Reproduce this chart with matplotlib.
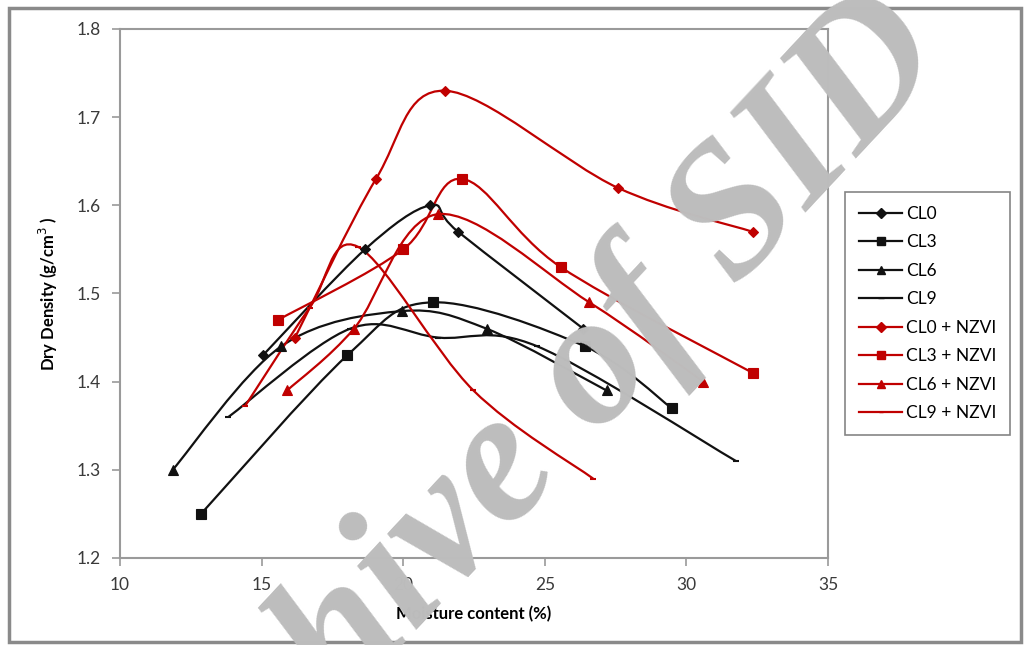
import matplotlib
matplotlib.use("Agg")
import matplotlib.pyplot as plt
from matplotlib.path import Path
from matplotlib.patches import PathPatch, Rectangle
from matplotlib.lines import Line2D
import numpy as np

# ---- data ----
cl0_x = [15.05, 18.65, 20.95, 21.94, 26.36]
cl0_y = [1.43, 1.55, 1.60, 1.57, 1.46]
cl3_x = [12.86, 18.03, 21.04, 26.42, 29.48]
cl3_y = [1.25, 1.43, 1.49, 1.44, 1.37]
cl6_x = [11.86, 15.69, 19.95, 22.95, 27.18]
cl6_y = [1.30, 1.44, 1.48, 1.46, 1.39]
cl9_x = [13.83, 18.12, 21.24, 24.74, 31.75]
cl9_y = [1.36, 1.46, 1.45, 1.44, 1.31]
cl0n_x = [16.18, 19.04, 21.48, 27.57, 32.34]
cl0n_y = [1.45, 1.63, 1.73, 1.62, 1.57]
cl3n_x = [15.58, 20.00, 22.07, 25.56, 32.34]
cl3n_y = [1.47, 1.55, 1.63, 1.53, 1.41]
cl6n_x = [15.90, 18.26, 21.23, 26.57, 30.60]
cl6n_y = [1.39, 1.46, 1.59, 1.49, 1.40]
cl9n_x = [14.41, 16.70, 18.40, 22.48, 26.71]
cl9n_y = [1.372, 1.484, 1.553, 1.39, 1.29]

labels = ["CL0", "CL3", "CL6", "CL9", "CL0 + NZVI", "CL3 + NZVI", "CL6 + NZVI", "CL9 + NZVI"]
x_ticks = [10, 15, 20, 25, 30, 35]
y_ticks = [1.2, 1.3, 1.4, 1.5, 1.6, 1.7, 1.8]

BLACK = "#111111"
RED = "#c00000"
series = [
    (cl0_x, cl0_y, BLACK, "D", 5.5),
    (cl3_x, cl3_y, BLACK, "s", 7),
    (cl6_x, cl6_y, BLACK, "^", 7),
    (cl9_x, cl9_y, BLACK, "_", 5),
    (cl0n_x, cl0n_y, RED, "D", 5.5),
    (cl3n_x, cl3n_y, RED, "s", 7),
    (cl6n_x, cl6n_y, RED, "^", 7),
    (cl9n_x, cl9n_y, RED, "_", 4),
]

plt.rcParams['font.family'] = ['Lato', 'DejaVu Sans']

fig = plt.figure(figsize=(10.27, 6.45), dpi=100)
ax = fig.add_axes([120/1027, 87/645, 708/1027, 529/645])


def smooth_path(xs, ys):
    """Excel-like smoothed line: cubic Bezier through the points."""
    p = np.column_stack([xs, ys]).astype(float)
    n = len(p)
    verts = [p[0]]
    codes = [Path.MOVETO]
    for i in range(n - 1):
        p0 = p[i - 1] if i > 0 else p[i]
        p1 = p[i]
        p2 = p[i + 1]
        p3 = p[i + 2] if i + 2 < n else p[i + 1]
        c1 = p1 + (p2 - p0) / 6.0
        c2 = p2 - (p3 - p1) / 6.0
        verts += [c1, c2, p2]
        codes += [Path.CURVE4] * 3
    return Path(verts, codes)


handles = []
for (xs, ys, col, mk, ms), lab in zip(series, labels):
    ax.add_patch(PathPatch(smooth_path(xs, ys), facecolor="none", edgecolor=col,
                           lw=1.6, zorder=3))
    ax.plot(xs, ys, linestyle="none", marker=mk, color=col, markersize=ms,
            markeredgewidth=1.5 if mk == "_" else 0.8, zorder=4)
    handles.append(Line2D([], [], color=col, lw=1.6, marker=mk,
                          markersize=ms * 0.85, markeredgewidth=1.0, label=lab))

ax.set_xlim(10, 35)
ax.set_ylim(1.2, 1.8)
ax.set_xticks(x_ticks)
ax.set_yticks(y_ticks)
ax.set_xticklabels([str(v) for v in x_ticks])
ax.set_yticklabels([f"{v:.1f}" for v in y_ticks])
for s in ax.spines.values():
    s.set_color("#9a9a9a")
    s.set_linewidth(1.5)
ax.tick_params(direction="out", length=6, width=1.2, color="#9a9a9a",
               labelsize=12.5, labelcolor="#3a3a3a", pad=8)

ax.set_xlabel("Moisture content (%)", fontsize=12, fontweight="bold", labelpad=9)
ax.set_ylabel("Dry Density (g/cm$^{3}$ )", fontsize=12, fontweight="bold", labelpad=12)

leg = fig.legend(handles=handles, loc="upper left",
                 bbox_to_anchor=(845/1027, 1 - 192/645), fontsize=12.5,
                 frameon=True, fancybox=False, borderaxespad=0,
                 handlelength=2.5, labelspacing=0.72, borderpad=0.8,
                 handletextpad=0.2)
leg.get_frame().set_edgecolor("#666666")
leg.get_frame().set_linewidth(1.2)

# outer frame of the picture
fig.patches.append(Rectangle((9/1027, 3/645), 1012/1027, 634/645,
                             transform=fig.transFigure, fill=False,
                             edgecolor="#8a8a8a", linewidth=2.5))

# watermark
fig.text(0.506, 0.284, "Archive of SID", rotation=47, fontsize=136,
         family="Liberation Serif", fontweight="bold", style="italic",
         color="#bdbdbd", ha="center", va="center", zorder=10)

fig.savefig("out.png", dpi=100)
